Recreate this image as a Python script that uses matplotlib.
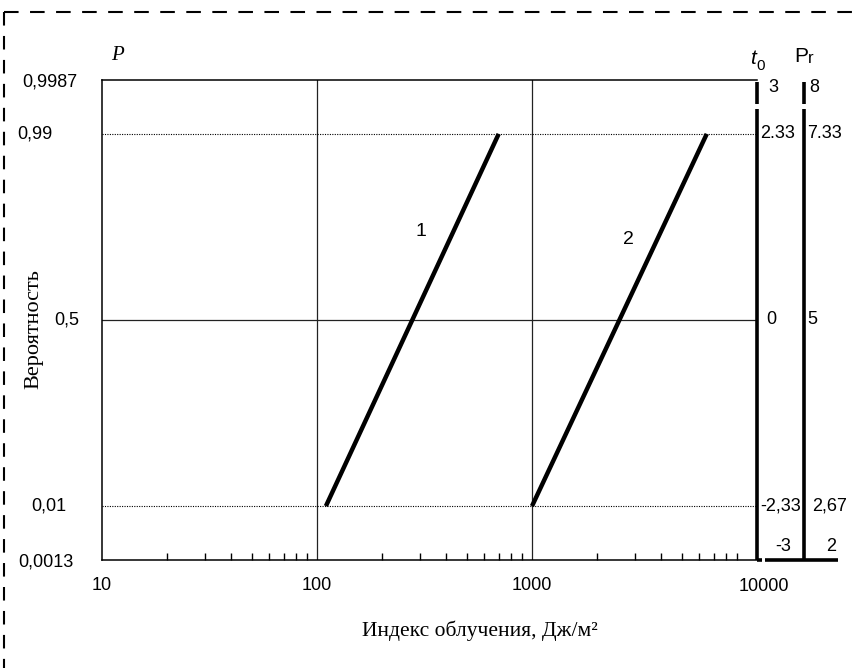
from statistics import NormalDist

import matplotlib
matplotlib.use('Agg')
import matplotlib.pyplot as plt
import numpy as np
from matplotlib.lines import Line2D
from matplotlib.ticker import LogLocator, NullFormatter
from matplotlib.transforms import blended_transform_factory

# dose (J/m2) at P = 0.01 and P = 0.99 for the two straight lines
dose_1 = [110, 700]
dose_2 = [1000, 6500]
prob = [0.01, 0.99]

# probability axis labels and the matching t0 / probit scales
p_ticks = [0.9987, 0.99, 0.5, 0.01, 0.0013]
p_labels = ['0,9987', '0,99', '0,5', '0,01', '0,0013']
t0_ticks = [3, 2.33, 0, -2.33, -3]
t0_labels = ['3', '2.33', '0', '-2,33', '-3']
pr_labels = ['8', '7.33', '5', '2,67', '2']

x_ticks = [10, 100, 1000, 10000]
x_labels = ['10', '100', '1000', '10000']

nd = NormalDist()


def probit(p):
    return [nd.inv_cdf(v) for v in p]


W, H = 858, 668
L, R, T, B = 102, 757, 80, 560
fig = plt.figure(figsize=(W / 100, H / 100), dpi=100)
ax = fig.add_axes([L / W, (H - B) / H, (R - L) / W, (B - T) / H])

sans = ['Liberation Sans', 'DejaVu Sans']
serif = ['Liberation Serif', 'DejaVu Serif']

ax.set_xscale('log')
decade = 215.0
ax.set_xlim(10, 10 ** (1 + (R - L) / decade))
ax.set_ylim(-3, 3)

for s in ['top', 'left', 'bottom']:
    ax.spines[s].set_linewidth(1.1)
ax.spines['right'].set_visible(False)

# grid
for xv in [100, 1000]:
    ax.axvline(xv, color='#222222', lw=0.9, zorder=1)
ax.axhline(0, color='#222222', lw=0.9, zorder=1)
for tv in [2.33, -2.33]:
    ax.axhline(tv, color='black', lw=0.8, ls=(0, (1, 1.2)), zorder=1)

ax.plot(dose_1, probit(prob), color='black', lw=3.2, solid_capstyle='butt', zorder=3)
ax.plot(dose_2, probit(prob), color='black', lw=3.2, solid_capstyle='butt', zorder=3)

# ticks; the last label is drawn separately, a bit right of its tick
ax.set_xticks(x_ticks)
ax.set_xticklabels(x_labels[:-1] + [''], fontsize=13, family=sans)
ax.xaxis.set_minor_locator(LogLocator(base=10, subs=np.arange(2, 10)))
ax.xaxis.set_minor_formatter(NullFormatter())
ax.tick_params(axis='x', which='major', length=0, pad=12)
ax.tick_params(axis='x', which='minor', direction='in', length=5, width=1)
ax.set_yticks([])

tr = blended_transform_factory(ax.transAxes, ax.transData)


def fx(px):
    return (px - L) / (R - L)


ax.text(fx(764), -3.33, x_labels[-1], transform=tr, ha='center', va='center',
        fontsize=13, family=sans)

# left probability labels
p_x = [50, 35, 67, 49, 46]
p_y = [2.97, 2.33, 0, -2.33, -3.03]
for lab, xp, yv in zip(p_labels, p_x, p_y):
    ax.text(fx(xp), yv, lab, transform=tr, ha='center', va='center',
            fontsize=13, family=sans)

ax.text(fx(117), 3.3, 'P', transform=tr, ha='center', va='center',
        fontsize=15, family=serif, style='italic')
ax.text(fx(34), -0.11, 'Вероятность', transform=tr, rotation=90,
        ha='center', va='center', fontsize=16, family=serif)
fig.text(480 / W, 1 - 631 / H, 'Индекс облучения, Дж/м²', ha='center',
         va='center', fontsize=15.5, family=serif)

# line numbers
ax.text(fx(421), 1.1, '1', transform=tr, ha='center', va='center', fontsize=14, family=sans)
ax.text(fx(628), 1.0, '2', transform=tr, ha='center', va='center', fontsize=14, family=sans)

# t0 and probit scales at the right
x_t0, x_pr = 757, 804
for xp in [x_t0, x_pr]:
    ax.plot([fx(xp)] * 2, [2.98, 2.7], transform=tr, color='black', lw=2.6,
            clip_on=False, solid_capstyle='butt')
    ax.plot([fx(xp)] * 2, [2.64, -3], transform=tr, color='black', lw=2.6,
            clip_on=False, solid_capstyle='butt')
ax.plot([fx(x_t0), fx(762)], [-3, -3], transform=tr, color='black', lw=2.6,
        clip_on=False, solid_capstyle='butt')
ax.plot([fx(765), fx(838)], [-3, -3], transform=tr, color='black', lw=2.6,
        clip_on=False, solid_capstyle='butt')

t0_x = [773, 778, 771, 781, 783]
pr_x = [814, 824, 812, 830, 831]
lab_y = [2.9, 2.33, 0, -2.33, -2.83]
for lab, xp, yv in zip(t0_labels, t0_x, lab_y):
    ax.text(fx(xp), yv, lab, transform=tr, ha='center', va='center',
            fontsize=13, family=sans)
for lab, xp, yv in zip(pr_labels, pr_x, lab_y):
    ax.text(fx(xp), yv, lab, transform=tr, ha='center', va='center',
            fontsize=13, family=sans)

ax.text(fx(753), 3.27, 't', transform=tr, ha='center', va='center', fontsize=15,
        family=sans, style='italic')
ax.text(fx(756), 3.18, '0', transform=tr, ha='left', va='center', fontsize=11,
        family=sans)
ax.text(fx(808), 3.3, 'P', transform=tr, ha='right', va='center', fontsize=15,
        family=sans)
ax.text(fx(808), 3.27, 'r', transform=tr, ha='left', va='center', fontsize=12,
        family=sans)

# dashed frame around the figure
fig.add_artist(Line2D([4 / W, 1], [1 - 12 / H] * 2, transform=fig.transFigure,
                      color='black', lw=1.5, dashes=(7, 5.5)))
fig.add_artist(Line2D([4 / W] * 2, [1 - 12 / H, 0], transform=fig.transFigure,
                      color='black', lw=1.5, dashes=(6.5, 5)))

fig.savefig('out.png', dpi=100)
